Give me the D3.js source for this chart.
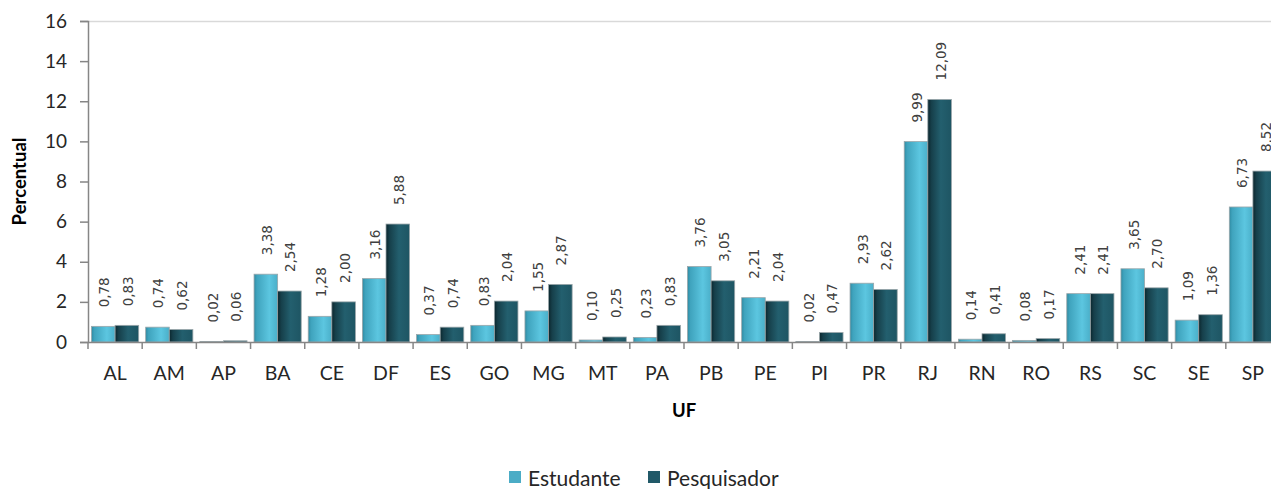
<!DOCTYPE html>
<html>
<head>
<meta charset="utf-8">
<script src="https://cdn.jsdelivr.net/npm/d3@7/dist/d3.min.js"></script>
<style>
  html, body { margin: 0; padding: 0; background: #fff; }
  svg { display: block; }
</style>
</head>
<body>
<svg id="chart" width="1271" height="489"></svg>
<script>
// Data — percent by UF
const UFS = ['AL','AM','AP','BA','CE','DF','ES','GO','MG','MT','PA','PB','PE','PI','PR','RJ','RN','RO','RS','SC','SE','SP'];
const SERIES = ['Estudante', 'Pesquisador'];
const estudante   = [0.78, 0.74, 0.02, 3.38, 1.28, 3.16, 0.37, 0.83, 1.55, 0.10, 0.23, 3.76, 2.21, 0.02, 2.93, 9.99, 0.14, 0.08, 2.41, 3.65, 1.09, 6.73];
const pesquisador = [0.83, 0.62, 0.06, 2.54, 2.00, 5.88, 0.74, 2.04, 2.87, 0.25, 0.83, 3.05, 2.04, 0.47, 2.62, 12.09, 0.41, 0.17, 2.41, 2.70, 1.36, 8.52];
const Y_TICKS = [0, 2, 4, 6, 8, 10, 12, 14, 16];

const COLORS = { 'Estudante': '#4bacc6', 'Pesquisador': '#215968' };

const svg = d3.select('#chart');
const mLeft = 88, mRight = 1280, mTop = 21, mBottom = 342;

const x0 = d3.scaleBand().domain(UFS).range([mLeft, mRight]).padding(0);
const x1 = d3.scaleBand().domain(SERIES).range([3.5, x0.bandwidth() - 3.5]).padding(0);
const y  = d3.scaleLinear().domain([0, 16]).range([mBottom, mTop]);

const rows = UFS.map((uf, i) => ({ uf, values: [
  { key: 'Estudante', v: estudante[i] },
  { key: 'Pesquisador', v: pesquisador[i] }
]}));

// gradients (bevel-ish look like the Excel bars)
const defs = svg.append('defs');
function grad(id, stops) {
  const g = defs.append('linearGradient').attr('id', id)
    .attr('x1', '0%').attr('x2', '100%').attr('y1', '0%').attr('y2', '0%');
  stops.forEach(([o, c]) => g.append('stop').attr('offset', o).attr('stop-color', c));
}
grad('g-est', [['0%', '#2f8aa2'], ['12%', '#3fa3bd'], ['65%', '#5cc6e0'], ['100%', '#4aafc9']]);
grad('g-pes', [['0%', '#0b262d'], ['15%', '#163f4a'], ['55%', '#235f6e'], ['100%', '#1e5563']]);
const fillOf = k => k === 'Estudante' ? 'url(#g-est)' : 'url(#g-pes)';

// top border of plot area
svg.append('line')
  .attr('x1', mLeft).attr('x2', mRight).attr('y1', mTop + 0.5).attr('y2', mTop + 0.5)
  .attr('stroke', '#d9d9d9').attr('stroke-width', 1.5);

// bars
const groups = svg.append('g').selectAll('g').data(rows).join('g')
  .attr('transform', d => `translate(${x0(d.uf)},0)`);

groups.selectAll('rect').data(d => d.values).join('rect')
  .attr('x', d => x1(d.key))
  .attr('y', d => y(d.v))
  .attr('width', x1.bandwidth())
  .attr('height', d => y(0) - y(d.v))
  .attr('fill', d => fillOf(d.key))
  .attr('stroke', '#9aa6aa')
  .attr('stroke-width', 0.8);

// data labels, rotated
const fmt = d3.format('.2f');
groups.selectAll('text').data(d => d.values).join('text')
  .attr('transform', d => `translate(${x1(d.key) + x1.bandwidth() / 2 + 1},${y(d.v) - 19}) rotate(-90)`)
  .attr('text-anchor', 'start')
  .attr('dominant-baseline', 'central')
  .attr('font-family', 'DejaVu Sans, sans-serif')
  .attr('font-size', 13.5)
  .attr('fill', '#404040')
  .text(d => fmt(d.v).replace('.', ','));

// y axis
const yAxis = svg.append('g')
  .attr('transform', `translate(${mLeft},0)`)
  .call(d3.axisLeft(y).tickValues(Y_TICKS).tickSize(8).tickPadding(13).tickFormat(d3.format('d')));
yAxis.select('.domain').attr('stroke', '#868686').attr('stroke-width', 1.5);
yAxis.selectAll('.tick line').attr('stroke', '#868686').attr('stroke-width', 1.5);
yAxis.selectAll('.tick text')
  .attr('font-family', 'Lato, sans-serif').attr('font-size', 19).attr('fill', '#262626');

// x axis
const xAxis = svg.append('g')
  .attr('transform', `translate(0,${mBottom})`)
  .call(d3.axisBottom(x0).tickSize(0).tickPadding(24));
xAxis.select('.domain').attr('stroke', '#868686').attr('stroke-width', 1.5);
xAxis.selectAll('.tick text')
  .attr('font-family', 'Lato, sans-serif').attr('font-size', 19.5).attr('fill', '#262626');
// category boundary ticks
svg.append('g').selectAll('line').data(UFS).join('line')
  .attr('x1', d => x0(d)).attr('x2', d => x0(d))
  .attr('y1', mBottom).attr('y2', mBottom + 7)
  .attr('stroke', '#868686').attr('stroke-width', 1.5);

// axis titles
svg.append('text')
  .attr('transform', `translate(19,${(mTop + mBottom) / 2}) rotate(-90)`)
  .attr('text-anchor', 'middle').attr('dominant-baseline', 'central')
  .attr('font-family', 'Lato, sans-serif').attr('font-weight', 'bold')
  .attr('font-size', 18.5).attr('fill', '#000')
  .text('Percentual');

svg.append('text')
  .attr('x', 684).attr('y', 410)
  .attr('text-anchor', 'middle').attr('dominant-baseline', 'central')
  .attr('font-family', 'Lato, sans-serif').attr('font-weight', 'bold')
  .attr('font-size', 18.5).attr('fill', '#000')
  .text('UF');

// legend
const legX = [509, 648];
const leg = svg.append('g').selectAll('g').data(SERIES).join('g')
  .attr('transform', (d, i) => `translate(${legX[i]},471)`);
leg.append('rect').attr('width', 12).attr('height', 12).attr('fill', d => COLORS[d]);
leg.append('text')
  .attr('x', 19).attr('y', 6).attr('dominant-baseline', 'central')
  .attr('font-family', 'Lato, sans-serif').attr('font-size', 21).attr('fill', '#262626')
  .text(d => d);
</script>
</body>
</html>
